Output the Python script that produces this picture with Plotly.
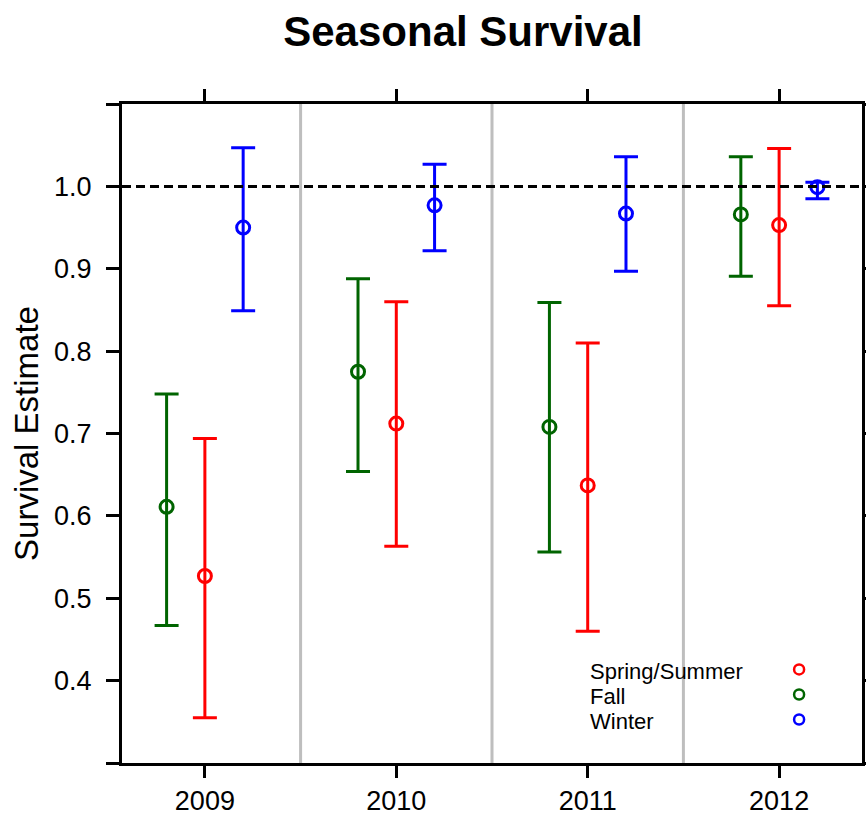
import plotly.graph_objects as go

years = [2009, 2010, 2011, 2012]
series_names = ["Spring/Summer", "Fall", "Winter"]
series_colors = ["#FF0000", "#006400", "#0000FF"]
series_offsets = [0.0, -0.2, 0.2]

spring_est = [0.527, 0.712, 0.637, 0.953]
spring_lo = [0.355, 0.563, 0.460, 0.855]
spring_hi = [0.694, 0.860, 0.810, 1.046]

fall_est = [0.611, 0.775, 0.708, 0.966]
fall_lo = [0.467, 0.654, 0.556, 0.891]
fall_hi = [0.748, 0.888, 0.859, 1.036]

winter_est = [0.950, 0.977, 0.967, 0.999]
winter_lo = [0.849, 0.922, 0.897, 0.985]
winter_hi = [1.047, 1.027, 1.036, 1.005]

y_ticks = [0.3, 0.4, 0.5, 0.6, 0.7, 0.8, 0.9, 1.0, 1.1]
y_ticklabels = ["", "0.4", "0.5", "0.6", "0.7", "0.8", "0.9", "1.0", ""]
reference_level = 1.0

FONT = "Liberation Sans, Arial, sans-serif"

fig = go.Figure()

data = [
    (spring_est, spring_lo, spring_hi),
    (fall_est, fall_lo, fall_hi),
    (winter_est, winter_lo, winter_hi),
]

for name, color, off, (est, lo, hi) in zip(series_names, series_colors, series_offsets, data):
    fig.add_trace(go.Scatter(
        x=[yr + off for yr in years],
        y=est,
        mode="markers",
        name=name,
        showlegend=False,
        marker=dict(symbol="circle-open", size=13, color=color, line=dict(width=3, color=color)),
        error_y=dict(
            type="data", symmetric=False,
            array=[h - e for h, e in zip(hi, est)],
            arrayminus=[e - l for e, l in zip(est, lo)],
            color=color, thickness=3, width=12,
        ),
    ))

shapes = []
# separators between years
for a, b in zip(years[:-1], years[1:]):
    shapes.append(dict(type="line", xref="x", yref="paper", x0=(a + b) / 2, x1=(a + b) / 2,
                       y0=0, y1=1, line=dict(color="#BEBEBE", width=3), layer="below"))
# reference dashed line
shapes.append(dict(type="line", xref="paper", yref="y", x0=0, x1=1, y0=reference_level, y1=reference_level,
                   line=dict(color="black", width=3, dash="9px,5px")))

# legend (text left, symbol right)
annotations = []
legend_rows_y = [0.139, 0.101, 0.063]
for name, color, ly in zip(series_names, series_colors, legend_rows_y):
    annotations.append(dict(x=0.630, y=ly, xref="paper", yref="paper", text=name, showarrow=False,
                            xanchor="left", yanchor="middle", font=dict(family=FONT, size=22, color="black")))
    shapes.append(dict(type="circle", xref="paper", yref="paper", xsizemode="pixel", ysizemode="pixel",
                       xanchor=0.915, yanchor=ly + 0.003, x0=-5, x1=5, y0=-5, y1=5,
                       line=dict(color=color, width=2.5)))

fig.update_layout(
    width=866, height=815,
    margin=dict(l=122, r=4, t=104, b=52, autoexpand=False),
    paper_bgcolor="white", plot_bgcolor="white",
    title=dict(text="Seasonal Survival", x=463 / 866, xanchor="center", y=1 - 31 / 815, yanchor="middle",
               xref="container", yref="container", automargin=False,
               font=dict(family=FONT, size=42, color="black", weight="bold")),
    shapes=shapes,
    annotations=annotations,
    showlegend=False,
)

fig.update_xaxes(
    range=[years[0] - 0.433, years[-1] + 0.433],
    tickvals=years, ticktext=[str(y) for y in years],
    ticks="outside", ticklen=12, tickwidth=3, tickcolor="black",
    showline=True, linewidth=3, linecolor="black", mirror="ticks",
    showgrid=False, zeroline=False, automargin=False,
    tickfont=dict(family=FONT, size=27, color="black"),
    ticklabelstandoff=0,
)
fig.update_yaxes(
    range=[y_ticks[0], y_ticks[-1]],
    tickvals=y_ticks, ticktext=y_ticklabels,
    ticks="outside", ticklen=13, tickwidth=3, tickcolor="black",
    showline=True, linewidth=3, linecolor="black", mirror="ticks",
    showgrid=False, zeroline=False, automargin=False,
    tickfont=dict(family=FONT, size=27, color="black"),
    ticklabelstandoff=9,
    title=dict(text="Survival Estimate", font=dict(family=FONT, size=33, color="black"), standoff=6),
)

fig.write_html("out.html", config={"displayModeBar": False},
               post_script="document.body.style.margin='0';document.body.style.overflow='hidden';")
